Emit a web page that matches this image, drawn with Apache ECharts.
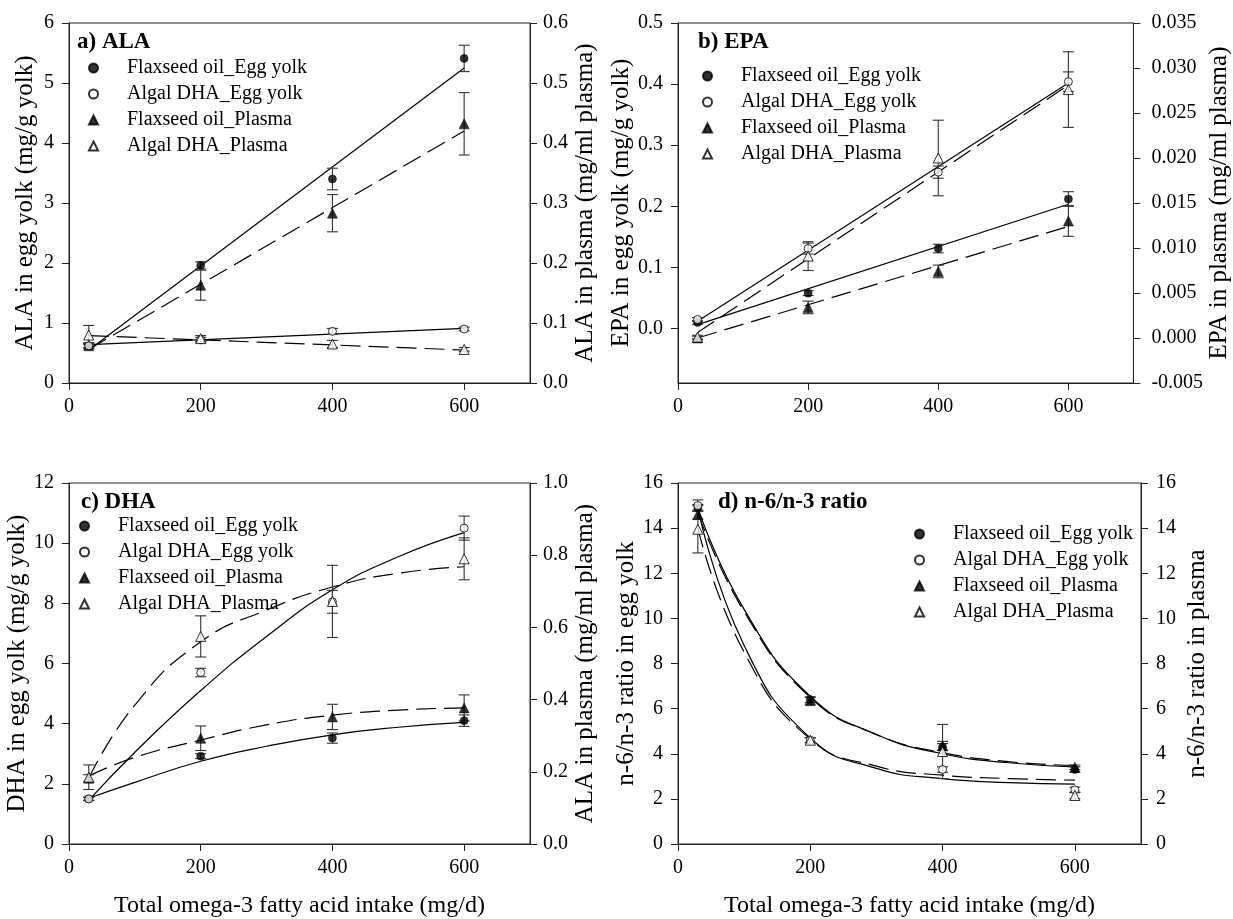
<!DOCTYPE html>
<html><head><meta charset="utf-8">
<script src="https://cdn.jsdelivr.net/npm/echarts@6/dist/echarts.min.js"></script>
<style>html,body{margin:0;padding:0;background:#fff}#c{width:1233px;height:919px}</style>
</head><body><div id="c"></div>
<script>
// ---------- data ----------
const intake = [30, 200, 400, 600];
const xTicks = [0, 200, 400, 600];
const legendNames = ['Flaxseed oil_Egg yolk', 'Algal DHA_Egg yolk', 'Flaxseed oil_Plasma', 'Algal DHA_Plasma'];
const panelTitles = ['a) ALA', 'b) EPA', 'c) DHA', 'd) n-6/n-3 ratio'];
const leftNames = ['ALA in egg yolk (mg/g yolk)', 'EPA in egg yolk (mg/g yolk)', 'DHA in egg yolk (mg/g yolk)', 'n-6/n-3 ratio in egg yolk'];
const rightNames = ['ALA in plasma (mg/ml plasma)', 'EPA in plasma (mg/ml plasma)', 'ALA in plasma (mg/ml plasma)', 'n-6/n-3 ratio in plasma'];
const xName = 'Total omega-3 fatty acid intake (mg/d)';

// a) ALA
const alaFlaxEgg = [0.62, 1.96, 3.40, 5.41];
const alaFlaxEggErr = [0.04, 0.06, 0.18, 0.22];
const alaAlgalEgg = [0.62, 0.72, 0.86, 0.90];
const alaAlgalEggErr = [0.03, 0.04, 0.05, 0.03];
const alaFlaxPlasma = [0.062, 0.163, 0.283, 0.432];
const alaFlaxPlasmaErr = [0.005, 0.025, 0.031, 0.052];
const alaAlgalPlasma = [0.080, 0.074, 0.065, 0.056];
const alaAlgalPlasmaErr = [0.016, 0.005, 0.006, 0.003];
const alaFitFlaxEgg = [[30, 0.55], [600, 5.25]];
const alaFitAlgalEgg = [[30, 0.64], [600, 0.91]];
const alaFitFlaxPlasma = [[30, 0.056], [600, 0.420]];
const alaFitAlgalPlasma = [[30, 0.079], [600, 0.055]];

// b) EPA
const epaFlaxEgg = [0.010, 0.058, 0.131, 0.212];
const epaFlaxEggErr = [0.003, 0.004, 0.007, 0.012];
const epaAlgalEgg = [0.015, 0.131, 0.256, 0.404];
const epaAlgalEggErr = [0.003, 0.009, 0.010, 0.016];
const epaFlaxPlasma = [0.0000, 0.0034, 0.0074, 0.0130];
const epaFlaxPlasmaErr = [0.0002, 0.0007, 0.0007, 0.0017];
const epaAlgalPlasma = [0.0001, 0.0091, 0.0200, 0.0276];
const epaAlgalPlasmaErr = [0.0002, 0.0016, 0.0042, 0.0042];
const epaFitFlaxEgg = [[30, 0.0066], [600, 0.2035]];
const epaFitAlgalEgg = [[30, 0.012], [600, 0.402]];
const epaFitFlaxPlasma = [[30, 0.0000], [600, 0.0124]];
const epaFitAlgalPlasma = [[30, 0.0006], [600, 0.0281]];

// c) DHA
const dhaFlaxEgg = [1.50, 2.92, 3.52, 4.10];
const dhaFlaxEggErr = [0.05, 0.08, 0.17, 0.19];
const dhaAlgalEgg = [1.50, 5.70, 8.05, 10.50];
const dhaAlgalEggErr = [0.06, 0.14, 0.38, 0.40];
const dhaFlaxPlasma = [0.182, 0.293, 0.352, 0.377];
const dhaFlaxPlasmaErr = [0.010, 0.034, 0.035, 0.036];
const dhaAlgalPlasma = [0.185, 0.575, 0.672, 0.790];
const dhaAlgalPlasmaErr = [0.034, 0.057, 0.100, 0.058];
const dhaFitFlaxEgg = [[30, 1.52], [100, 2.05], [200, 2.75], [300, 3.25], [400, 3.63], [500, 3.88], [600, 4.04]];
const dhaFitAlgalEgg = [[30, 1.45], [100, 3.05], [200, 5.10], [300, 6.90], [400, 8.45], [500, 9.55], [600, 10.35]];
const dhaFitFlaxPlasma = [[30, 0.188], [100, 0.240], [200, 0.288], [300, 0.330], [400, 0.357], [500, 0.371], [600, 0.377]];
const dhaFitAlgalPlasma = [[30, 0.182], [100, 0.385], [200, 0.560], [300, 0.648], [400, 0.712], [500, 0.750], [600, 0.768]];

// d) n-6/n-3 ratio
const ratioFlaxEgg = [14.9, 6.40, 4.30, 3.30];
const ratioFlaxEggErr = [0.15, 0.12, 0.15, 0.12];
const ratioAlgalEgg = [15.0, 4.60, 3.30, 2.40];
const ratioAlgalEggErr = [0.25, 0.10, 0.12, 0.12];
const ratioFlaxPlasma = [14.6, 6.35, 4.35, 3.40];
const ratioFlaxPlasmaErr = [0.20, 0.15, 0.20, 0.10];
const ratioAlgalPlasma = [13.95, 4.60, 4.10, 2.15];
const ratioAlgalPlasmaErr = [1.05, 0.12, 1.20, 0.15];
const ratioFitFlaxEgg = [[30, 14.9], [100, 10.4], [200, 6.55], [300, 4.85], [400, 4.0], [500, 3.6], [600, 3.42]];
const ratioFitAlgalEgg = [[30, 14.9], [100, 8.8], [200, 4.7], [300, 3.35], [400, 2.9], [500, 2.72], [600, 2.65]];
const ratioFitFlaxPlasma = [[30, 14.7], [100, 10.3], [200, 6.5], [300, 4.85], [400, 4.05], [500, 3.65], [600, 3.48]];
const ratioFitAlgalPlasma = [[30, 14.0], [100, 8.5], [200, 4.65], [300, 3.45], [400, 3.05], [500, 2.9], [600, 2.83]];

// axis ranges / ticks
const leftAxes = [
  {min: 0, max: 6, interval: 1, digits: 0},
  {min: -0.089, max: 0.5, ticks: [0, 0.1, 0.2, 0.3, 0.4, 0.5], digits: 1},
  {min: 0, max: 12, interval: 2, digits: 0},
  {min: 0, max: 16, interval: 2, digits: 0}
];
const rightAxes = [
  {min: 0, max: 0.6, interval: 0.1, digits: 1},
  {min: -0.005, max: 0.035, interval: 0.005, digits: 3},
  {min: 0, max: 1.0, interval: 0.2, digits: 1},
  {min: 0, max: 16, interval: 2, digits: 0}
];

// ---------- layout ----------
const FONT = "'Liberation Serif', 'Times New Roman', serif";
const grids = [
  {left: 69, top: 23, width: 461, height: 360},
  {left: 678, top: 23, width: 463, height: 360},
  {left: 69, top: 483, width: 461, height: 361},
  {left: 678, top: 483, width: 463, height: 361}
];
const leftGap = [31, 36, 33, 35];
const rightGap = [43, 67, 43, 44];
const rightMargin = [13, 18, 13, 15];
const titlePos = [[77, 31], [698, 31], [81, 491], [718, 491]];
const legendPos = [[88, 58], [702, 66], [79, 516], [914, 524]];

const panels = [
  {vals: [alaFlaxEgg, alaAlgalEgg, alaFlaxPlasma, alaAlgalPlasma], errs: [alaFlaxEggErr, alaAlgalEggErr, alaFlaxPlasmaErr, alaAlgalPlasmaErr], fits: [alaFitFlaxEgg, alaFitAlgalEgg, alaFitFlaxPlasma, alaFitAlgalPlasma]},
  {vals: [epaFlaxEgg, epaAlgalEgg, epaFlaxPlasma, epaAlgalPlasma], errs: [epaFlaxEggErr, epaAlgalEggErr, epaFlaxPlasmaErr, epaAlgalPlasmaErr], fits: [epaFitFlaxEgg, epaFitAlgalEgg, epaFitFlaxPlasma, epaFitAlgalPlasma]},
  {vals: [dhaFlaxEgg, dhaAlgalEgg, dhaFlaxPlasma, dhaAlgalPlasma], errs: [dhaFlaxEggErr, dhaAlgalEggErr, dhaFlaxPlasmaErr, dhaAlgalPlasmaErr], fits: [dhaFitFlaxEgg, dhaFitAlgalEgg, dhaFitFlaxPlasma, dhaFitAlgalPlasma]},
  {vals: [ratioFlaxEgg, ratioAlgalEgg, ratioFlaxPlasma, ratioAlgalPlasma], errs: [ratioFlaxEggErr, ratioAlgalEggErr, ratioFlaxPlasmaErr, ratioAlgalPlasmaErr], fits: [ratioFitFlaxEgg, ratioFitAlgalEgg, ratioFitFlaxPlasma, ratioFitAlgalPlasma]}
];

const symbolDefs = [
  {symbol: 'circle', size: 8, z: 4, style: {color: '#000', borderColor: '#000', borderWidth: 0.6}},
  {symbol: 'circle', size: 8, z: 6, style: {color: '#fff', borderColor: '#000', borderWidth: 1}},
  {symbol: 'triangle', size: 10, z: 5, style: {color: '#000', borderColor: '#000', borderWidth: 0.6}},
  {symbol: 'triangle', size: 10, z: 7, style: {color: '#fff', borderColor: '#000', borderWidth: 1}}
];
const lineTypes = ['solid', 'solid', [20, 8], [20, 8]];

function fmt(d) { return v => Number(v).toFixed(d); }

const xAxis = [], yAxis = [], series = [], title = [], legend = [];
grids.forEach((g, i) => {
  const bottomRow = i >= 2;
  xAxis.push({
    type: 'value', gridIndex: i, min: 0, max: 700,
    name: bottomRow ? xName : '', nameLocation: 'middle', nameGap: 50,
    nameTextStyle: {fontFamily: FONT, fontSize: 24, color: '#000'},
    axisLine: {show: true, onZero: false, lineStyle: {color: '#222', width: 1}},
    axisTick: {show: true, inside: false, length: 7, customValues: xTicks, lineStyle: {color: '#222'}},
    axisLabel: {customValues: xTicks, margin: 14, fontFamily: FONT, fontSize: 20, color: '#000'},
    splitLine: {show: false}
  });
  const L = leftAxes[i], R = rightAxes[i];
  const lAxis = {
    type: 'value', gridIndex: i, position: 'left', min: L.min, max: L.max,
    name: leftNames[i], nameLocation: 'middle', nameRotate: 90, nameGap: leftGap[i],
    nameTextStyle: {fontFamily: FONT, fontSize: 25, color: '#000'},
    axisLine: {show: true, onZero: false, lineStyle: {color: '#222', width: 1}},
    axisTick: {show: true, inside: false, length: 7, lineStyle: {color: '#222'}},
    axisLabel: {margin: 15, fontFamily: FONT, fontSize: 20, color: '#000', formatter: fmt(L.digits)},
    splitLine: {show: false}
  };
  if (L.ticks) {
    lAxis.axisTick.customValues = L.ticks;
    lAxis.axisLabel.customValues = L.ticks;
  } else {
    lAxis.interval = L.interval;
  }
  yAxis.push(lAxis);
  yAxis.push({
    type: 'value', gridIndex: i, position: 'right', min: R.min, max: R.max, interval: R.interval,
    name: rightNames[i], nameLocation: 'middle', nameRotate: 90, nameGap: rightGap[i],
    nameTextStyle: {fontFamily: FONT, fontSize: 25, color: '#000'},
    axisLine: {show: true, onZero: false, lineStyle: {color: '#222', width: 1}},
    axisTick: {show: true, inside: false, length: 7, lineStyle: {color: '#222'}},
    axisLabel: {margin: rightMargin[i], fontFamily: FONT, fontSize: 20, color: '#000', formatter: fmt(R.digits)},
    splitLine: {show: false}
  });

  title.push({
    text: panelTitles[i], left: titlePos[i][0], top: titlePos[i][1], padding: 0,
    textStyle: {fontFamily: FONT, fontSize: 23, fontWeight: 'bold', color: '#000'}
  });
  legend.push({
    data: legendNames, orient: 'vertical', left: legendPos[i][0], top: legendPos[i][1], padding: 0,
    itemWidth: 9, itemHeight: 9, itemGap: 6, selectedMode: false,
    textStyle: {fontFamily: FONT, fontSize: 20, color: '#000', lineHeight: 20, padding: [0, 0, 0, 24]}
  });

  const P = panels[i];
  for (let s = 0; s < 4; s++) {
    const yIdx = 2 * i + (s < 2 ? 0 : 1);
    // fitted curve
    series.push({
      type: 'line', xAxisIndex: i, yAxisIndex: yIdx, data: P.fits[s],
      symbol: 'none', smooth: P.fits[s].length > 2 ? 0.5 : false,
      lineStyle: {color: '#000', width: 1.2, type: lineTypes[s]}, z: 2, silent: true
    });
    // error bars
    series.push({
      type: 'custom', xAxisIndex: i, yAxisIndex: yIdx, z: 3, silent: true,
      data: intake.map((x, k) => [x, P.vals[s][k], P.errs[s][k]]),
      encode: {x: 0, y: 1},
      renderItem: (params, api) => {
        const x = api.value(0), y = api.value(1), e = api.value(2);
        const top = api.coord([x, y + e]);
        const bot = api.coord([x, y - e]);
        const hw = 5.5;
        const st = {stroke: '#333', lineWidth: 1.1};
        return {type: 'group', children: [
          {type: 'line', shape: {x1: top[0], y1: top[1], x2: bot[0], y2: bot[1]}, style: st},
          {type: 'line', shape: {x1: top[0] - hw, y1: top[1], x2: top[0] + hw, y2: top[1]}, style: st},
          {type: 'line', shape: {x1: bot[0] - hw, y1: bot[1], x2: bot[0] + hw, y2: bot[1]}, style: st}
        ]};
      }
    });
    // markers
    const sd = symbolDefs[s];
    series.push({
      type: 'scatter', name: legendNames[s], xAxisIndex: i, yAxisIndex: yIdx,
      data: intake.map((x, k) => [x, P.vals[s][k]]),
      symbol: sd.symbol, symbolSize: sd.size, itemStyle: sd.style, z: sd.z
    });
  }
});

const chart = echarts.init(document.getElementById('c'), null, {renderer: 'canvas'});
chart.setOption({
  animation: false,
  backgroundColor: '#fff',
  grid: grids.map(g => Object.assign({show: true, borderColor: '#222', borderWidth: 1, backgroundColor: 'transparent'}, g)),
  title, legend, xAxis, yAxis, series
});
</script></body></html>
